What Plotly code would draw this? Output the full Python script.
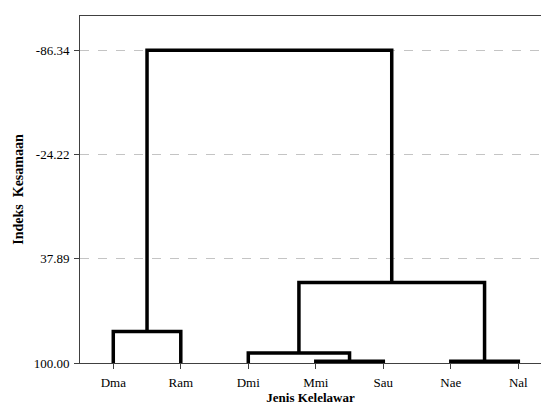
import plotly.graph_objects as go

# ---- data ----
leaf_labels = ["Dma", "Ram", "Dmi", "Mmi", "Sau", "Nae", "Nal"]
leaf_height = 100.0
# merges: (left cluster, right cluster, similarity level)
merge_left = ["Dma", "Mmi", "Nae", "Dmi", "Dmi+Mmi+Sau", "Dma+Ram"]
merge_right = ["Ram", "Sau", "Nal", "Mmi+Sau", "Nae+Nal", "Dmi+Mmi+Sau+Nae+Nal"]
merge_level = [81.2, 98.9, 99.0, 94.0, 52.0, -86.34]
y_tick_vals = [100.00, 37.89, -24.22, -86.34]
y_tick_text = ["100.00", "37.89", "-24.22", "-86.34"]

# ---- build dendrogram coordinates ----
pos = {lab: float(i) for i, lab in enumerate(leaf_labels)}
hgt = {lab: leaf_height for lab in leaf_labels}

fig = go.Figure()
for a, b, h in zip(merge_left, merge_right, merge_level):
    xa, xb = pos[a], pos[b]
    ya, yb = hgt[a], hgt[b]
    fig.add_trace(go.Scatter(
        x=[xa, xa, xb, xb], y=[ya, h, h, yb], mode="lines",
        line=dict(color="black", width=3.5), hoverinfo="skip", showlegend=False))
    name = a + "+" + b
    pos[name] = (xa + xb) / 2
    hgt[name] = h

font = dict(family="Liberation Serif, Times New Roman, serif", size=13, color="black")

fig.update_layout(
    width=541, height=405,
    margin=dict(l=80, r=0, t=16, b=42),
    plot_bgcolor="white", paper_bgcolor="white",
    font=font, showlegend=False,
    xaxis=dict(
        range=[-0.493, 6.336],
        tickmode="array", tickvals=list(range(len(leaf_labels))), ticktext=leaf_labels,
        showgrid=False, zeroline=False,
        showline=True, linecolor="#404040", linewidth=1, mirror=True,
        ticks="outside", ticklen=5, tickcolor="#404040", ticklabelstandoff=2,
        title=dict(text="<b>Jenis Kelelawar</b>", font=dict(size=13), standoff=5),
    ),
    yaxis=dict(
        range=[100, -106.8],
        tickmode="array", tickvals=y_tick_vals, ticktext=y_tick_text,
        showgrid=True, gridcolor="#c4c4c4", griddash="dash", gridwidth=1,
        zeroline=False,
        showline=True, linecolor="#404040", linewidth=1,
        ticks="outside", ticklen=5, tickcolor="#404040", ticklabelstandoff=2,
        title=dict(text="<b>Indeks  Kesamaan</b>", font=dict(size=14), standoff=6),
    ),
)

fig.write_html("out.html")
